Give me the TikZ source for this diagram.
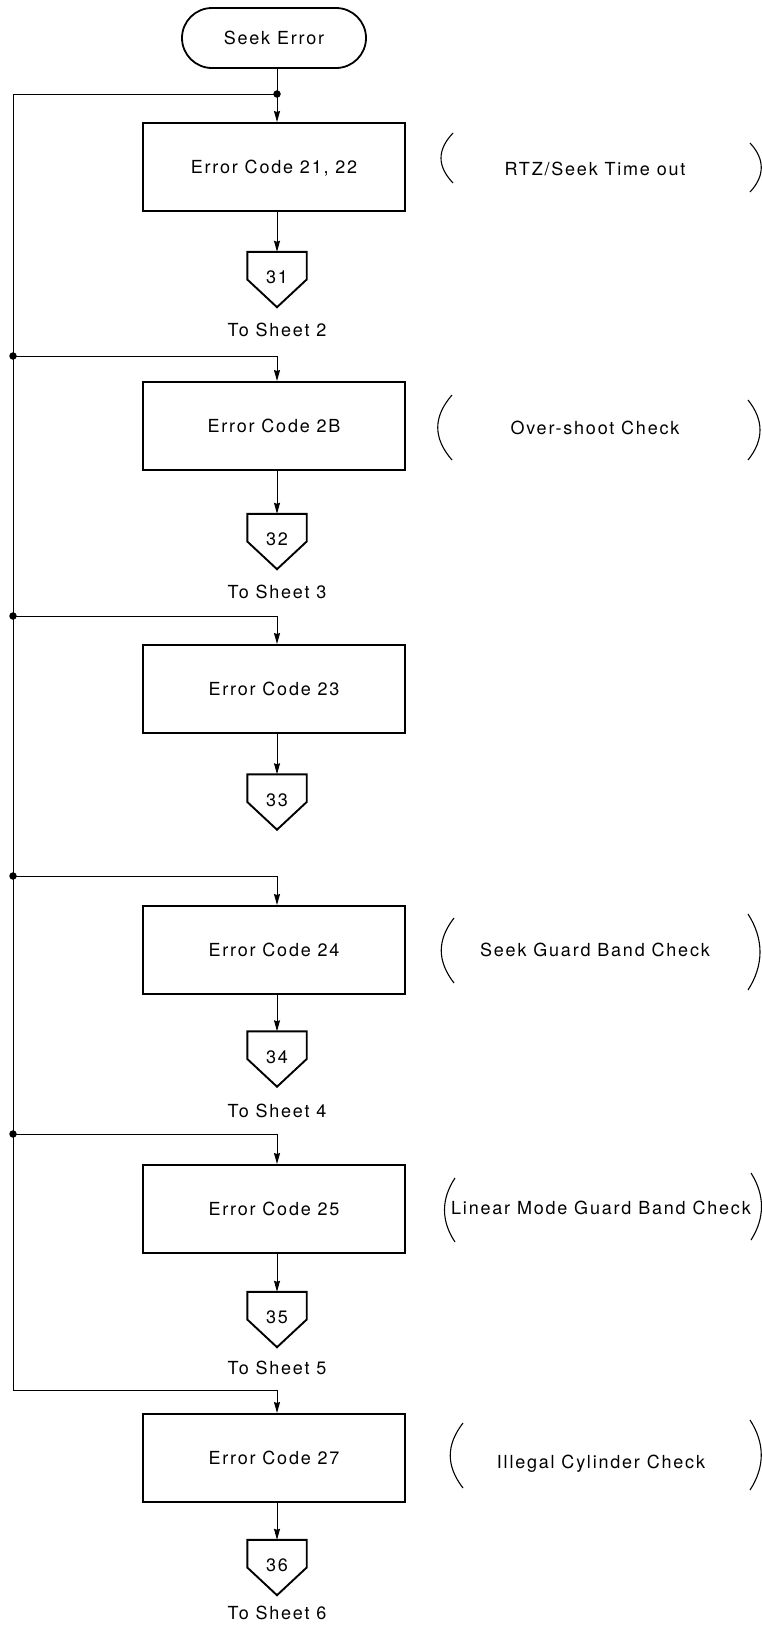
\documentclass[tikz,border=0pt]{standalone}
\usepackage{fontspec}
\setmainfont{TeX Gyre Heros}[LetterSpace=10]
\usetikzlibrary{arrows.meta}

\begin{document}
\begin{tikzpicture}[x=1pt,y=-1pt,
  every node/.style={font=\fontsize{18}{21}\selectfont, inner sep=0pt},
  txt/.style={text height=13pt, text depth=0pt},
  terminal/.style={txt, draw, line width=1.8pt, minimum width=184pt, minimum height=60pt, rounded corners=30pt},
  procbox/.style={txt, draw, line width=2pt, minimum width=262pt, minimum height=88pt},
  offpage/.style={minimum width=59pt, minimum height=55pt},
  pent/.style={draw, line width=1.9pt, line join=miter},
  flow/.style={line width=1pt},
  arrowline/.style={line width=1pt, -{Stealth[length=11pt, width=6pt, inset=1pt]}},
  dot/.style={circle, fill, minimum size=7.5pt, inner sep=0pt},
  paren/.style={line width=1.1pt},
  note/.style={txt}
]
\useasboundingbox (0,0) rectangle (762,1625);

% start terminal
\node[terminal] (start) at (274,38) {Seek Error};

% process boxes
\node[procbox] (b1) at (274,167)  {Error Code 21, 22};
\node[procbox] (b2) at (274,426)  {Error Code 2B};
\node[procbox] (b3) at (274,689)  {Error Code 23};
\node[procbox] (b4) at (274,950)  {Error Code 24};
\node[procbox] (b5) at (274,1209) {Error Code 25};
\node[procbox] (b6) at (274,1458) {Error Code 27};

% off-page connectors (pentagon outline drawn from the node anchors)
\node[offpage] (c1) at (277,279.5)  {\raisebox{4pt}{31}};
\node[offpage] (c2) at (277,541.5)  {\raisebox{4pt}{32}};
\node[offpage] (c3) at (277,802)    {\raisebox{4pt}{33}};
\node[offpage] (c4) at (277,1059)   {\raisebox{4pt}{34}};
\node[offpage] (c5) at (277,1319.5) {\raisebox{4pt}{35}};
\node[offpage] (c6) at (277,1567.5) {\raisebox{4pt}{36}};
\foreach \c in {c1,c2,c3,c4,c5,c6}
  \draw[pent] (\c.west) -- (\c.north west) -- (\c.north east) -- (\c.east) -- (\c.south) -- cycle;

% sheet references
\node[txt] (s1) at (277,330)  {To Sheet 2};
\node[txt] (s2) at (277,592)  {To Sheet 3};
\node[txt] (s4) at (277,1111) {To Sheet 4};
\node[txt] (s5) at (277,1368) {To Sheet 5};
\node[txt] (s6) at (277,1613) {To Sheet 6};

% junctions on the left bus
\coordinate (j1) at (277,94);
\coordinate (l1) at (13,94);
\node[dot] (l2) at (13,356) {};
\node[dot] (l3) at (13,616) {};
\node[dot] (l4) at (13,876) {};
\node[dot] (l5) at (13,1134) {};
\coordinate (l6) at (13,1390);
\node[dot] (jd) at (j1) {};

% main flow
\draw[flow] (start.south -| j1) -- (j1);
\draw[arrowline] (j1) -- (b1.north -| j1);
\draw[flow] (j1) -- (l1) -- (l6);
\draw[arrowline] (l2.center) -| (b2.north -| c2);
\draw[arrowline] (l3.center) -| (b3.north -| c3);
\draw[arrowline] (l4.center) -| (b4.north -| c4);
\draw[arrowline] (l5.center) -| (b5.north -| c5);
\draw[arrowline] (l6) -| (b6.north -| c6);

% box to connector
\draw[arrowline] (b1.south -| c1) -- (c1.north);
\draw[arrowline] (b2.south -| c2) -- (c2.north);
\draw[arrowline] (b3.south -| c3) -- (c3.north);
\draw[arrowline] (b4.south -| c4) -- (c4.north);
\draw[arrowline] (b5.south -| c5) -- (c5.north);
\draw[arrowline] (b6.south -| c6) -- (c6.north);

% side notes in parentheses
\node[note] (n1) at (595,169)  {RTZ/Seek Time out};
\node[note] (n2) at (595,428)  {Over-shoot Check};
\node[note] (n4) at (595,950)  {Seek Guard Band Check};
\node[note] (n5) at (601,1208) {Linear Mode Guard Band Check};
\node[note] (n6) at (601,1462) {Illegal Cylinder Check};

\draw[paren] (453,133) .. controls (437,150) and (437,166) .. (453,183);
\draw[paren] (750,143) .. controls (765,159) and (765,176) .. (750,192);
\draw[paren] (452,395) .. controls (433,417) and (433,438) .. (452,460);
\draw[paren] (748,400) .. controls (764,420) and (764,440) .. (748,460);
\draw[paren] (454,918) .. controls (437,940) and (437,961) .. (454,983);
\draw[paren] (748,914) .. controls (764,939) and (764,965) .. (748,990);
\draw[paren] (455,1178) .. controls (441,1199) and (441,1221) .. (455,1242);
\draw[paren] (751,1173) .. controls (765,1195) and (765,1218) .. (751,1240);
\draw[paren] (463,1423) .. controls (446,1445) and (446,1466) .. (463,1488);
\draw[paren] (750,1420) .. controls (765,1443) and (765,1467) .. (750,1490);
\end{tikzpicture}
\end{document}
